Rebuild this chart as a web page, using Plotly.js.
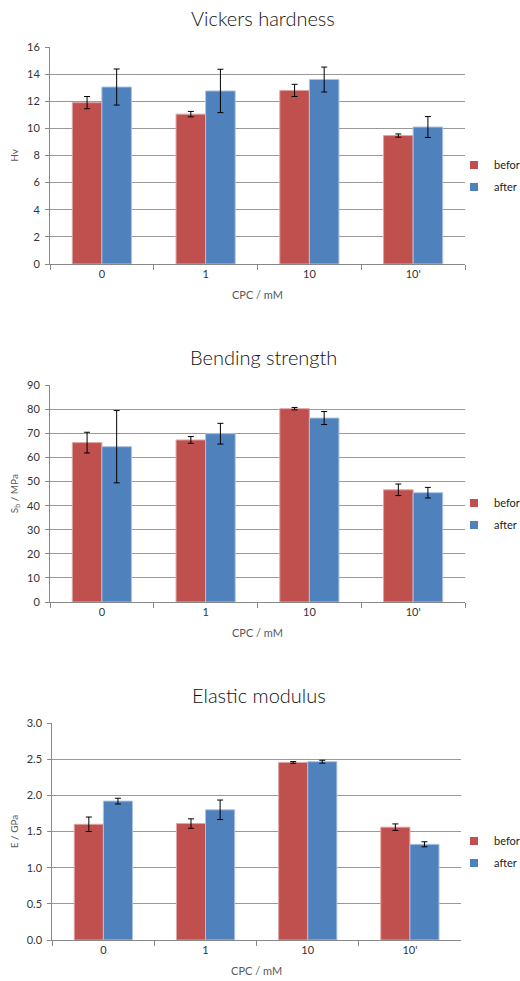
<!DOCTYPE html>
<html>
<head>
<meta charset="utf-8">
<script src="https://cdn.plot.ly/plotly-3.0.1.min.js"></script>
<style>html,body{margin:0;padding:0;background:#fff;}#chart{width:520px;height:981px;}</style>
</head>
<body>
<div id="chart"></div>
<script>
const categories = ["0", "1", "10", "10'"];
const seriesNames = ["befor", "after"];

const chartTitles = ["Vickers hardness", "Bending strength", "Elastic modulus"];
const yTitles = ["Hv", "S<sub>b</sub> / MPa", "E / GPa"];
const xTitle = "CPC / mM";

const hvBefore = [11.9, 11.05, 12.8, 9.47];
const hvBeforeErr = [0.45, 0.2, 0.45, 0.12];
const hvAfter = [13.05, 12.76, 13.6, 10.1];
const hvAfterErr = [1.33, 1.6, 0.92, 0.77];

const sbBefore = [66.2, 67.3, 80.3, 46.6];
const sbBeforeErr = [4.3, 1.4, 0.5, 2.4];
const sbAfter = [64.5, 69.9, 76.4, 45.4];
const sbAfterErr = [15.0, 4.3, 2.7, 2.2];

const eBefore = [1.60, 1.61, 2.455, 1.56];
const eBeforeErr = [0.10, 0.065, 0.012, 0.045];
const eAfter = [1.92, 1.80, 2.465, 1.323];
const eAfterErr = [0.04, 0.135, 0.02, 0.035];

const yRanges = [[0, 16], [0, 90], [0, 3]];
const yDticks = [2, 10, 0.5];

const RED = "#C0504D", BLUE = "#4F81BD";
const FONT = "Lato, 'Open Sans', sans-serif";

const groups = [
  [hvBefore, hvBeforeErr, hvAfter, hvAfterErr],
  [sbBefore, sbBeforeErr, sbAfter, sbAfterErr],
  [eBefore, eBeforeErr, eAfter, eAfterErr]
];

const traces = [];
groups.forEach((g, i) => {
  const xa = i === 0 ? "x" : "x" + (i + 1);
  const ya = i === 0 ? "y" : "y" + (i + 1);
  const lg = i === 0 ? "legend" : "legend" + (i + 1);
  [[g[0], g[1], RED, "#dca5a4", seriesNames[0]], [g[2], g[3], BLUE, "#a9c2e2", seriesNames[1]]].forEach(([vals, errs, col, lcol, name]) => {
    traces.push({
      type: "bar", x: categories, y: vals, name: name,
      xaxis: xa, yaxis: ya, showlegend: false,
      marker: {color: col, line: {color: lcol, width: 1}},
      error_y: {type: "data", array: errs, visible: true, color: "#000", thickness: 1, width: 3}
    });
    traces.push({
      type: "scatter", mode: "markers", x: [null], y: [null], name: name,
      xaxis: xa, yaxis: ya, legend: lg, legendgroup: name + i, showlegend: true,
      marker: {symbol: "square", size: 8, color: col}
    });
  });
});

const H = 981, W = 520;
const yDom = [[47, 264], [385.3, 602], [723, 940]];
const xDom = [[50, 465], [50, 465], [52.3, 461]];
const legendY = [176, 514, 852];
const titleY = [18, 357, 695];
const titleX = [263, 263, 259];

const layout = {
  width: W, height: H,
  margin: {l: 0, r: 0, t: 0, b: 0, autoexpand: false},
  paper_bgcolor: "#fff", plot_bgcolor: "#fff",
  font: {family: FONT, color: "#333", size: 11},
  barmode: "group", bargap: 0.43, bargroupgap: 0,
  annotations: [],
  showlegend: true
};

for (let i = 0; i < 3; i++) {
  const sfx = i === 0 ? "" : String(i + 1);
  layout["xaxis" + sfx] = {
    domain: [xDom[i][0] / W, xDom[i][1] / W],
    anchor: "y" + sfx,
    type: "category",
    showline: true, linecolor: "#888", linewidth: 1,
    ticks: "outside", ticklen: 5, tickcolor: "#888", tickson: "boundaries",
    showgrid: false, zeroline: false,
    tickfont: {family: FONT, size: 11, color: "#333"},
    title: {text: xTitle, font: {family: FONT, size: 11, color: "#595959"}, standoff: 12},
    automargin: false,
    fixedrange: true
  };
  layout["yaxis" + sfx] = {
    domain: [1 - yDom[i][1] / H, 1 - yDom[i][0] / H],
    anchor: "x" + sfx,
    range: yRanges[i], dtick: yDticks[i], tick0: 0,
    tickformat: i === 2 ? ".1f" : "",
    showline: true, linecolor: "#888", linewidth: 1,
    ticks: "outside", ticklen: 4, tickcolor: "#888",
    showgrid: true, gridcolor: "#999", gridwidth: 1, zeroline: false,
    tickfont: {family: FONT, size: 11, color: "#333"},
    ticklabelstandoff: 3,
    title: {text: yTitles[i], font: {family: FONT, size: 10, color: "#595959"}, standoff: 6},
    automargin: false,
    fixedrange: true
  };
  layout["legend" + sfx] = {
    x: 454 / W, xanchor: "left",
    y: 1 - legendY[i] / H, yanchor: "middle",
    font: {family: FONT, size: 11, color: "#222"},
    bgcolor: "rgba(0,0,0,0)", borderwidth: 0,
    tracegroupgap: 3, traceorder: "grouped",
    itemwidth: 30
  };
  layout.annotations.push({
    text: chartTitles[i], xref: "paper", yref: "paper",
    x: titleX[i] / W, y: 1 - titleY[i] / H, xanchor: "center", yanchor: "middle",
    showarrow: false, font: {family: FONT, size: 20, color: "#111", weight: 300}
  });
}

Plotly.newPlot("chart", traces, layout, {displayModeBar: false, staticPlot: true});
</script>
</body>
</html>
